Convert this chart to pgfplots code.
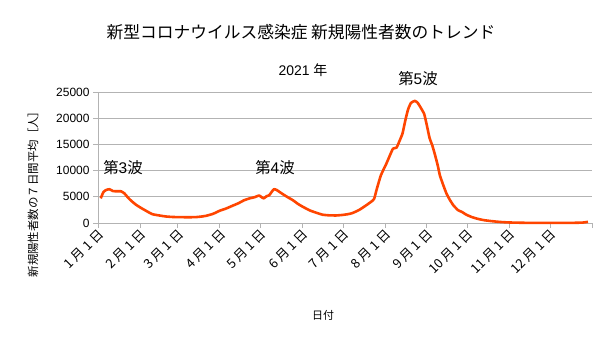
\documentclass[border=0pt]{standalone}
\usepackage{pgfplots}
\pgfplotsset{compat=1.18}
\usepackage{fontspec}
\setmainfont{Liberation Sans}
\newfontfamily\jp{Noto Sans CJK JP}
\definecolor{wave}{RGB}{255,69,0}
\definecolor{gridc}{RGB}{179,179,179}
\begin{document}
\begin{tikzpicture}[x=1bp,y=1bp]
\path[use as bounding box] (0,0) rectangle (605,340);
\begin{axis}[scale only axis, width=494bp, height=131bp, at={(98bp,117bp)}, anchor=south west,
  xmin=0, xmax=365, ymin=0, ymax=25000,
  axis x line*=bottom, axis y line*=left,
  axis line style={draw=gridc, line width=0.8pt, -},
  xtick={0,31,59,90,120,151,181,212,243,273,304,334,365},
  xticklabels={1 月 1 日,2 月 1 日,3 月 1 日,4 月 1 日,5 月 1 日,6 月 1 日,7 月 1 日,8 月 1 日,9 月 1 日,10 月 1 日,11 月 1 日,12 月 1 日,{}},
  x tick label style={rotate=45, anchor=east, xshift=3bp, yshift=-5bp, font=\jp\fontsize{13}{14}\selectfont},
  ytick={0,5000,10000,15000,20000,25000},
  y tick label style={font=\fontsize{12}{13}\selectfont},
  /pgf/number format/assume math mode=true,
  /pgf/number format/1000 sep={},
  scaled y ticks=false,
  tick align=outside, major tick length=5bp,
  tick style={draw=gridc, line width=0.8pt},
  ymajorgrids, major grid style={draw=gridc, line width=0.7pt},
  clip=false,
]
\addplot[color=wave, line width=2.6pt, smooth, tension=0.3, line join=round] coordinates {
(2,4700) (4,5900) (6,6300) (8.5,6450) (11,6100) (14,6050) (17,6050) (19.5,5650)
(22,4900) (24.5,4250) (28,3500) (31,3000) (35,2400) (40,1700) (45,1450) (50,1250)
(55,1150) (60,1120) (66,1100) (72,1120) (77,1250) (80,1380) (85,1750) (90,2350)
(95,2800) (99,3250) (104,3800) (108,4350) (112,4700) (116,4950) (119,5250) (121,4900)
(122.5,4700) (124.5,5100) (126.5,5300) (128.5,6000) (130,6450) (132,6300) (136,5600)
(140,4950) (144,4350) (148,3600) (152,3000) (157,2350) (162,1900) (166,1580) (171,1460)
(176,1440) (181,1550) (185,1700) (188,1900) (193,2500) (198,3350) (202,4100) (204,4600)
(206,6500) (209,9100) (213,11300) (216,13100) (218,14200) (220.6,14400) (223,15800)
(225,17100) (227,19500) (229,21600) (231.2,22900) (234,23300) (236,23000) (238,22200)
(241,20800) (243,18600) (245,16200) (247,14800) (249,13000) (251,11000) (252.6,9100)
(255,7300) (257.5,5600) (260,4400) (262.5,3400) (266,2450) (269,2100) (272,1600)
(276,1150) (280,830) (285,550) (290,380) (297,200) (304,100) (315,40) (334,20)
(350,30) (358,80) (362,220)
};
\end{axis}
\node[font=\jp\fontsize{16.8}{18}\selectfont] at (301,308) {新型コロナウイルス感染症 新規陽性者数のトレンド};
\node[font=\fontsize{14}{16}\selectfont] at (303,270) {2021 {\jp 年}};
\node[font=\fontsize{15.5}{17}\selectfont] at (123,172) {{\jp 第}3{\jp 波}};
\node[font=\fontsize{15.5}{17}\selectfont] at (275,172) {{\jp 第}4{\jp 波}};
\node[font=\fontsize{15.5}{17}\selectfont] at (418,261) {{\jp 第}5{\jp 波}};
\node[font=\jp\fontsize{11}{13}\selectfont] at (323,25) {日付};
\node[font=\jp\fontsize{11.5}{13}\selectfont, rotate=90] at (33,148.5) {新規陽性者数の７日間平均［人］};
\end{tikzpicture}
\end{document}
